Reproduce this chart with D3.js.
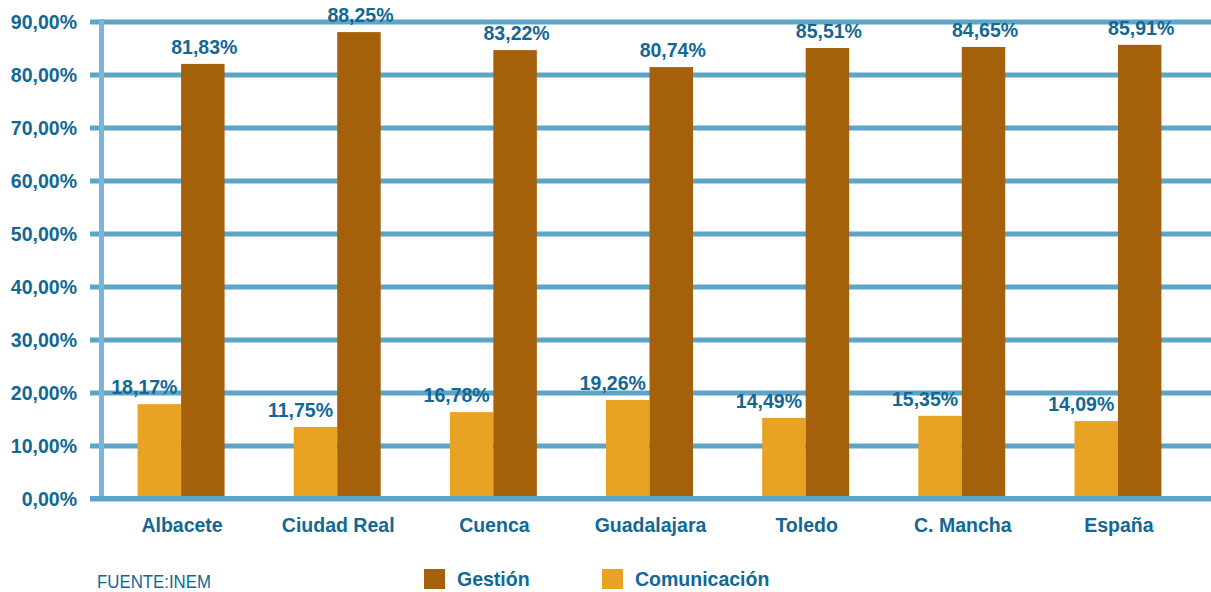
<!DOCTYPE html>
<html><head><meta charset="utf-8">
<script src="https://cdn.jsdelivr.net/npm/d3@7"></script>
<style>body{margin:0;background:#fff}svg{display:block}text{font-family:"Liberation Sans",Arial,sans-serif}</style>
</head><body><svg id="c" width="1211" height="592"></svg>
<script>
const categories = ["Albacete","Ciudad Real","Cuenca","Guadalajara","Toledo","C. Mancha","España"];
const seriesNames = ["Comunicación","Gestión"];
// bar heights as drawn in the picture
const comunicacion = [17.8, 13.5, 16.3, 18.6, 15.2, 15.6, 14.6];
const gestion = [82.0, 88.0, 84.6, 81.4, 85.0, 85.2, 85.6];
// values printed on the labels
const comunicacionLabels = [18.17, 11.75, 16.78, 19.26, 14.49, 15.35, 14.09];
const gestionLabels = [81.83, 88.25, 83.22, 80.74, 85.51, 84.65, 85.91];
const yTicks = [0,10,20,30,40,50,60,70,80,90];
const sourceText = "FUENTE:INEM";

const colors = {"Comunicación":"#e8a324","Gestión":"#a5600c"};
const textColor = "#126894";
const gridColor = "#5ba5c8";
const fs = "19.5px";
const fmt = v => d3.format(".2f")(v).replace(".", ",") + "%";

const svg = d3.select("#c");
const y = d3.scaleLinear().domain([0,90]).range([498.5,21.5]);
const x0 = d3.scaleBand().domain(categories).range([103,1196]).paddingInner(0.443).paddingOuter(0.2215);
const x1 = d3.scaleBand().domain(seriesNames).range([0, x0.bandwidth()]);

const rows = categories.map((c,i)=>({cat:c, values:[
  {s:"Comunicación", v:comunicacion[i], lab:comunicacionLabels[i]},
  {s:"Gestión", v:gestion[i], lab:gestionLabels[i]}]}));

// gridlines via axis
const yAxis = d3.axisLeft(y).tickValues(yTicks).tickFormat(d=>fmt(d)).tickSize(-(1211-90)).tickPadding(13);
const ga = svg.append("g").attr("transform","translate(90,0)").call(yAxis);
ga.select(".domain").remove();
ga.selectAll(".tick line").attr("stroke",gridColor).attr("stroke-width",5);
ga.selectAll(".tick text").attr("fill",textColor).attr("font-size",fs).attr("font-weight","bold")
  .attr("font-family","'Liberation Sans',Arial,sans-serif").attr("dy","0.35em");

// vertical axis line
svg.append("line").attr("x1",101.5).attr("x2",101.5).attr("y1",y(90)-2.5).attr("y2",y(0))
  .attr("stroke","#7ab5d5").attr("stroke-width",5);

// bars
const groups = svg.append("g").selectAll("g").data(rows).join("g")
  .attr("transform",d=>`translate(${x0(d.cat)},0)`);
groups.selectAll("rect").data(d=>d.values).join("rect")
  .attr("x",d=>x1(d.s)).attr("width",x1.bandwidth())
  .attr("y",d=>y(d.v)).attr("height",d=>y(0)-y(d.v))
  .attr("fill",d=>colors[d.s]);

// zero line on top
svg.append("line").attr("x1",90).attr("x2",1211).attr("y1",y(0)).attr("y2",y(0))
  .attr("stroke",gridColor).attr("stroke-width",5);

// value labels
groups.selectAll("text.val").data(d=>d.values).join("text").attr("class","val")
  .attr("x",d=>x1(d.s)+x1.bandwidth()/2 + (d.s==="Comunicación" ? -15 : 1.5))
  .attr("y",d=>y(d.v)-10)
  .attr("text-anchor","middle").attr("fill",textColor).attr("font-size",fs).attr("font-weight","bold")
  .text(d=>fmt(d.lab));

// category labels
svg.append("g").selectAll("text").data(categories).join("text")
  .attr("x",d=>x0(d)+x0.bandwidth()/2+1).attr("y",532)
  .attr("text-anchor","middle").attr("fill",textColor).attr("font-size",fs).attr("font-weight","bold")
  .text(d=>d);

// legend
const legend = [{s:"Gestión", x:424},{s:"Comunicación", x:602}];
const lg = svg.append("g").selectAll("g").data(legend).join("g").attr("transform",d=>`translate(${d.x},569)`);
lg.append("rect").attr("width",21).attr("height",20).attr("fill",d=>colors[d.s]);
lg.append("text").attr("x",33).attr("y",17).attr("fill",textColor).attr("font-size",fs).attr("font-weight","bold").text(d=>d.s);

// source
svg.append("text").attr("x",97).attr("y",588).attr("fill",textColor).attr("font-size","18px")
  .attr("font-family","'Liberation Sans Narrow','Arial Narrow',sans-serif")
  .attr("textLength",114).attr("lengthAdjust","spacingAndGlyphs")
  .text(sourceText);
</script></body></html>
